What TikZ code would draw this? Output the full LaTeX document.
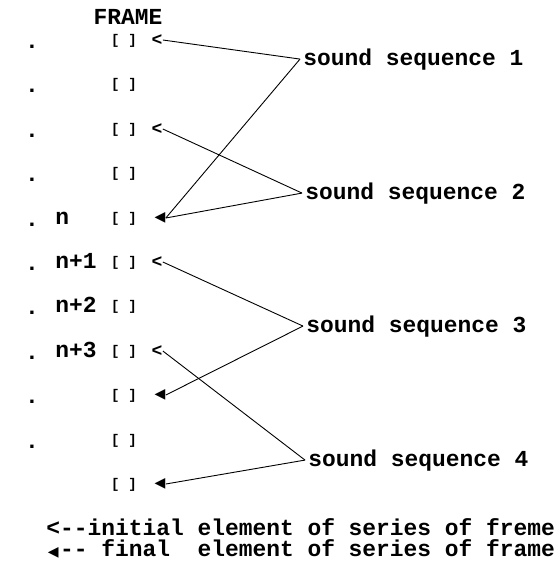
\documentclass[tikz,border=0pt]{standalone}
\usepackage{fontspec}
\setmonofont{Liberation Mono}
\newfontfamily\symfont{DejaVu Sans}
\newcommand{\finsym}{{\symfont\fontsize{14}{14}\selectfont ◀}}
\begin{document}
\begin{tikzpicture}[x=1pt,y=-1pt,line width=0.9pt,
  every node/.style={inner sep=0pt,font=\ttfamily\bfseries\fontsize{22.9}{24}\selectfont},
  brk/.style={font=\ttfamily\bfseries\fontsize{14}{14}\selectfont},
  ini/.style={font=\ttfamily\bfseries\fontsize{18}{18}\selectfont},
  seq/.style={anchor=base west,inner xsep=3pt}]
\useasboundingbox (0,0) rectangle (557,562);

\node[anchor=base] (frame) at (128,24) {FRAME};

% dots
\node[anchor=base] (d1) at (32,48) {.};
\node[anchor=base] (d2) at (32,92) {.};
\node[anchor=base] (d3) at (32,137) {.};
\node[anchor=base] (d4) at (32,181) {.};
\node[anchor=base] (d5) at (32,226) {.};
\node[anchor=base] (d6) at (32,270) {.};
\node[anchor=base] (d7) at (32,314) {.};
\node[anchor=base] (d8) at (32,359) {.};
\node[anchor=base] (d9) at (32,403) {.};
\node[anchor=base] (d10) at (32,448) {.};

\node[anchor=base west] (n5) at (55,224.5) {n};
\node[anchor=base west] (n6) at (55,268.5) {n+1};
\node[anchor=base west] (n7) at (55,312.5) {n+2};
\node[anchor=base west] (n8) at (55,357.5) {n+3};

% frames
\node[brk] (b1) at (124,41) {[\kern9pt]};
\node[brk] (b2) at (124,85) {[\kern9pt]};
\node[brk] (b3) at (124,130) {[\kern9pt]};
\node[brk] (b4) at (124,174) {[\kern9pt]};
\node[brk] (b5) at (124,219) {[\kern9pt]};
\node[brk] (b6) at (124,263) {[\kern9pt]};
\node[brk] (b7) at (124,307) {[\kern9pt]};
\node[brk] (b8) at (124,352) {[\kern9pt]};
\node[brk] (b9) at (124,396) {[\kern9pt]};
\node[brk] (b10) at (124,441) {[\kern9pt]};
\node[brk] (b11) at (124,485) {[\kern9pt]};

% initial and final elements
\node[ini] (in1) at (157,40) {<};
\node[ini] (in3) at (157,129) {<};
\node[ini] (in6) at (157,262) {<};
\node[ini] (in8) at (157,351) {<};
\node (fi5) at (160,218) {\finsym};
\node (fi9) at (160,395) {\finsym};
\node (fi11) at (160,484) {\finsym};

\node[seq] (s1) at (300,65) {sound sequence 1};
\node[seq] (s2) at (302,199) {sound sequence 2};
\node[seq] (s3) at (303,332) {sound sequence 3};
\node[seq] (s4) at (305,466) {sound sequence 4};

\draw (s1.west) -- (in1.east);
\draw (s1.west) -- (fi5.east);
\draw (s2.west) -- (in3.east);
\draw (s2.west) -- (fi5.east);
\draw (s3.west) -- (in6.east);
\draw (s3.west) -- (fi9.east);
\draw (s4.west) -- (in8.east);
\draw (s4.west) -- (fi11.east);

% legend
\node[anchor=base west,align=left,font=\ttfamily\bfseries\fontsize{22.9}{21}\selectfont] (leg) at (46,556)
  {<-{}-initial element of series of freme\\
   \makebox[13.74pt]{\finsym}-{}- final~~element of series of frame};

\end{tikzpicture}
\end{document}
